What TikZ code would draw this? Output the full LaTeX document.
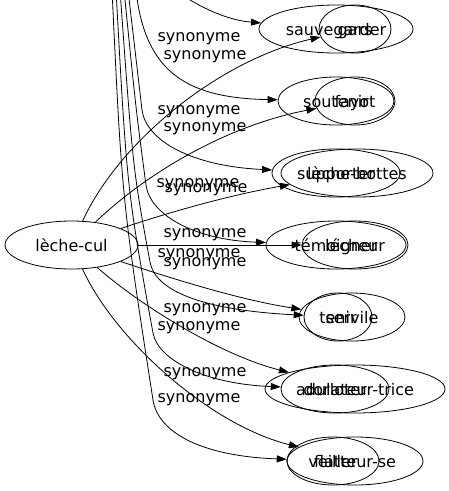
\documentclass[tikz,border=0pt]{standalone}
\usepackage{fontspec}
\setmainfont{DejaVu Sans}
\usetikzlibrary{arrows.meta,shapes.geometric}

\begin{document}
\begin{tikzpicture}[x=1pt,y=-1pt,
    word/.style={draw, ellipse, line width=0.8pt, minimum height=48pt, inner sep=0pt, text height=12pt, text depth=0pt, font=\fontsize{16}{18}\selectfont},
    syn/.style={inner sep=0pt, text height=8.7pt, text depth=0pt, font=\fontsize{16}{18}\selectfont},
    arr/.style={-{Triangle[length=10pt,width=7pt]}, line width=0.8pt}]
    \useasboundingbox (0,0) rectangle (449,491);

    \node[word, minimum width=133pt] (lechecul) at (71.5,245) {lèche-cul};

    \node[word, minimum width=72pt] (gars) at (355,29) {gars};
    \node[word, minimum width=80pt] (fayot) at (355,101) {fayot};
    \node[word, minimum width=152pt] (lechebottes) at (357,173) {lèche-bottes};
    \node[word, minimum width=106pt] (lecheur) at (355,245) {lécheur};
    \node[word, minimum width=106pt] (servile) at (352,317) {servile};
    \node[word, minimum width=180pt] (adulateur) at (355,389) {adulateur-trice};
    \node[word, minimum width=136pt] (flatteur) at (355,461) {flatteur-se};

    \node[word, minimum width=154pt] (sauvegarder) at (336,29) {sauvegarder};
    \node[word, minimum width=116pt] (soutenir) at (336,101) {soutenir};
    \node[word, minimum width=128pt] (supporter) at (336,173) {supporter};
    \node[word, minimum width=140pt] (temoigner) at (336,245) {témoigner};
    \node[word, minimum width=68pt] (tenir) at (338,317) {tenir};
    \node[word, minimum width=108pt] (dorloter) at (335,389) {dorloter};
    \node[word, minimum width=92pt] (veiller) at (333,461) {veiller};

    \node[syn] (synA1) at (205,55) {synonyme};
    \node[syn] (synA2) at (205,127) {synonyme};
    \node[syn] (synA3) at (206,188) {synonyme};
    \node[syn] (synA4) at (205,233) {synonyme};
    \node[syn] (synA5) at (205,262) {synonyme};
    \node[syn] (synA6) at (205,308) {synonyme};
    \node[syn] (synA7) at (205,372) {synonyme};

    \node[syn] (synB2) at (199,37) {synonyme};
    \node[syn] (synB3) at (199,110) {synonyme};
    \node[syn] (synB4) at (198,183) {synonyme};
    \node[syn] (synB5) at (199,253) {synonyme};
    \node[syn] (synB6) at (199,326) {synonyme};
    \node[syn] (synB7) at (199,398) {synonyme};

    \draw[arr] (lechecul) .. controls (120,140) and (220,60) .. (gars);
    \draw[arr] (lechecul) .. controls (150,170) and (230,125) .. (fayot);
    \draw[arr] (lechecul) .. controls (170,212) and (230,195) .. (lechebottes);
    \draw[arr] (lechecul) -- (lecheur);
    \draw[arr] (lechecul) .. controls (170,278) and (240,300) .. (servile);
    \draw[arr] (lechecul) .. controls (140,305) and (220,355) .. (adulateur);
    \draw[arr] (lechecul) .. controls (115,340) and (210,425) .. (flatteur);

    \coordinate (top1) at (172,-12);
    \coordinate (top2) at (136,-10);
    \coordinate (top3) at (128,-10);
    \coordinate (top4) at (124,-10);
    \coordinate (top5) at (120,-10);
    \coordinate (top6) at (116,-10);
    \coordinate (top7) at (112,-10);

    \draw[arr] (top1) .. controls (195,5) and (225,20) .. (sauvegarder);
    \draw[arr] (top2) .. controls (145,75) and (190,98) .. (soutenir);
    \draw[arr] (top3) .. controls (135,50) .. (142,110) .. controls (146,140) and (190,166) .. (supporter);
    \draw[arr] (top4) .. controls (136,110) .. (146,185) .. controls (150,215) and (195,240) .. (temoigner);
    \draw[arr] (top5) .. controls (133,170) .. (150,262) .. controls (155,290) and (200,310) .. (tenir);
    \draw[arr] (top6) .. controls (127,190) .. (153,333) .. controls (158,360) and (205,384) .. (dorloter);
    \draw[arr] (top7) .. controls (122,200) .. (153,400) .. controls (158,432) and (200,456) .. (veiller);
\end{tikzpicture}
\end{document}
